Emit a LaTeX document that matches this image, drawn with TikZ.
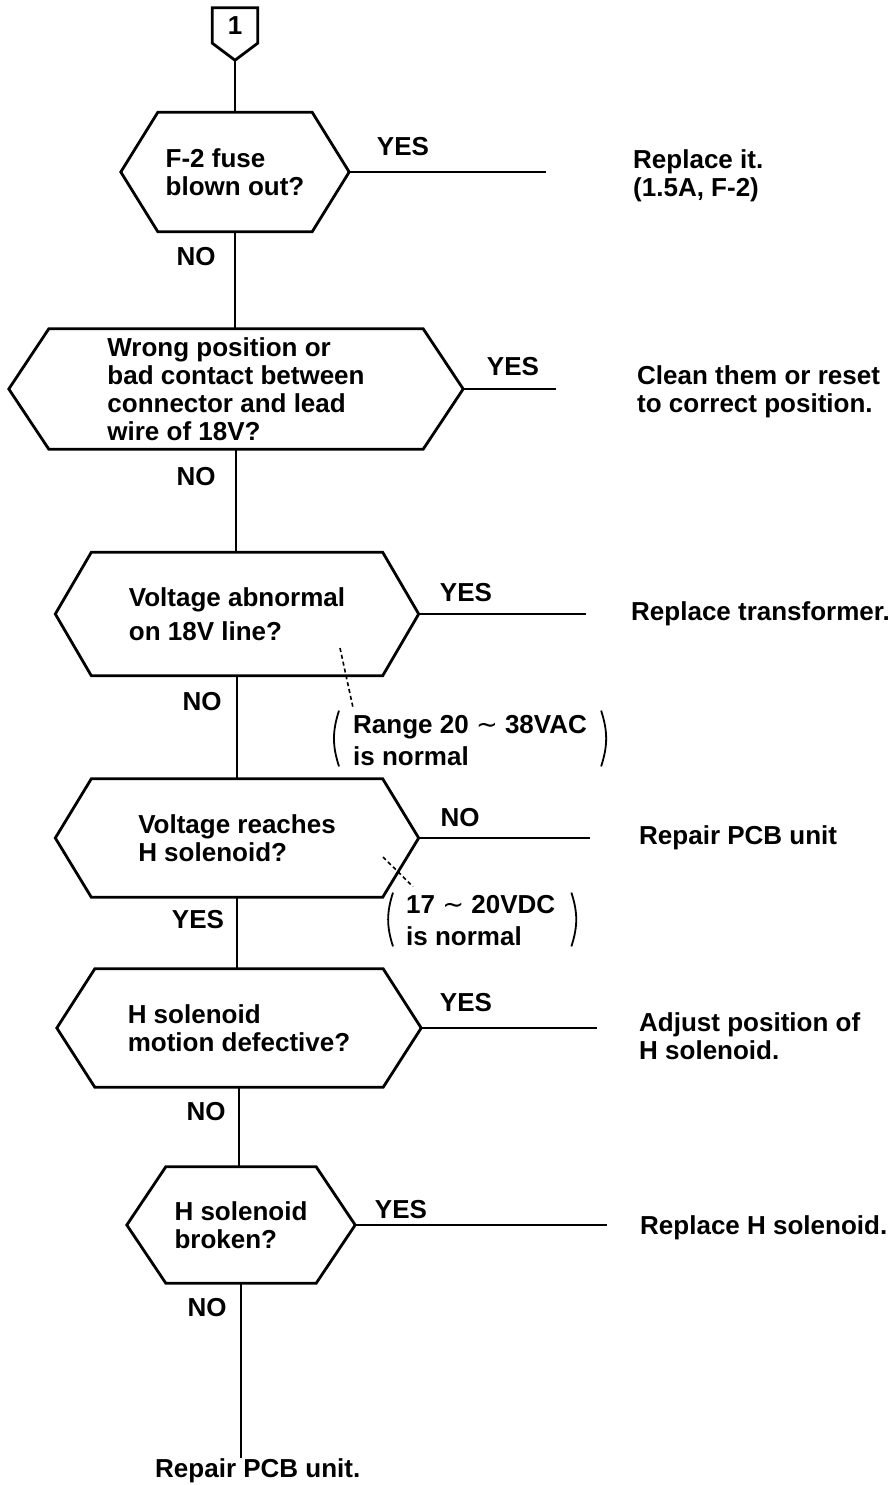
\documentclass[tikz,border=0pt]{standalone}
\usepackage{fontspec}
\setmainfont{Liberation Sans}
\newfontfamily\symfont{DejaVu Sans}
\newcommand{\tld}{{\symfont\mdseries ∼}}

\begin{document}
\begin{tikzpicture}[x=1pt, y=-1pt,
    txt/.style={font={\fontsize{26}{28}\selectfont\bfseries}, inner sep=0pt},
    quest/.style={txt, align=left, rectangle},
    ans/.style={txt, align=left, anchor=west},
    note/.style={txt, align=left, anchor=west, font={\fontsize{26}{32}\selectfont\bfseries}},
    startbox/.style={txt, rectangle, minimum width=45pt, minimum height=35pt},
    hexline/.style={line width=2.8pt, line join=miter},
    flow/.style={line width=2.3pt},
    leader/.style={line width=1.6pt, dash pattern=on 4pt off 3pt},
    paren/.style={line width=1.8pt}]

    \useasboundingbox (0,0) rectangle (893,1485);

    % --- Entry connector ---
    \node[startbox] (s) at (235,25.5) {1};
    \coordinate (tip) at ([yshift=-17pt]s.south);
    \draw[hexline] (s.north west) -- (s.north east) -- (s.south east)
        -- (tip) -- (s.south west) -- cycle;

    % --- Questions ---
    \node[quest, minimum width=228pt, minimum height=119pt] (q1) at (235,172)
        {F-2 fuse\\blown out?};
    \node[quest, minimum width=454pt, minimum height=120pt] (q2) at (236,389)
        {Wrong position or\\bad contact between\\connector and lead\\wire of 18V?};
    \node[quest, minimum width=363pt, minimum height=123pt] (q3) at (237,614)
        {Voltage abnormal\\[6pt]on 18V line?};
    \node[quest, minimum width=363pt, minimum height=118pt] (q4) at (237,838)
        {Voltage reaches\\H solenoid?};
    \node[quest, minimum width=364pt, minimum height=118pt] (q5) at (239,1028)
        {H solenoid\\motion defective?};
    \node[quest, minimum width=228pt, minimum height=116pt] (q6) at (241,1225)
        {H solenoid\\broken?};

    % hexagon outlines round the question boxes
    \foreach \n/\c in {q1/37pt, q2/40pt, q3/36pt, q4/36pt, q5/38pt, q6/39pt}
        \draw[hexline] ([xshift=\c]\n.north west) -- ([xshift=-\c]\n.north east)
            -- (\n.east) -- ([xshift=-\c]\n.south east)
            -- ([xshift=\c]\n.south west) -- (\n.west) -- cycle;

    % --- Main line down ---
    \draw[flow] (tip) -- (tip |- q1.north);
    \draw[flow] (q1.south) -- (q1.south |- q2.north);
    \draw[flow] (q2.south) -- (q2.south |- q3.north);
    \draw[flow] (q3.south) -- (q3.south |- q4.north);
    \draw[flow] (q4.south) -- (q4.south |- q5.north);
    \draw[flow] (q5.south) -- (q5.south |- q6.north);

    \node[txt] (no1) at (196,257) {NO};
    \node[txt] (no2) at (196,477) {NO};
    \node[txt] (no3) at (202,702) {NO};
    \node[txt] (yes4) at (198,920) {YES};
    \node[txt] (no5) at (206,1112) {NO};
    \node[txt] (no6) at (207,1308) {NO};

    \node[txt, anchor=base west] (fin) at (155,1477) {Repair PCB unit.};
    \draw[flow] (q6.south) -- (q6.south |- fin.north);

    % --- Branches to the right ---
    \coordinate (e1) at (546,0);
    \coordinate (e2) at (556,0);
    \coordinate (e3) at (586,0);
    \coordinate (e4) at (590,0);
    \coordinate (e5) at (597,0);
    \coordinate (e6) at (607,0);
    \draw[flow] (q1.east) -- (q1.east -| e1);
    \draw[flow] (q2.east) -- (q2.east -| e2);
    \draw[flow] (q3.east) -- (q3.east -| e3);
    \draw[flow] (q4.east) -- (q4.east -| e4);
    \draw[flow] (q5.east) -- (q5.east -| e5);
    \draw[flow] (q6.east) -- (q6.east -| e6);

    \node[txt] (yes1) at (403,147) {YES};
    \node[txt] (yes2) at (513,367) {YES};
    \node[txt] (yes3) at (466,593) {YES};
    \node[txt] (no4) at (460,818) {NO};
    \node[txt] (yes5) at (466,1003) {YES};
    \node[txt] (yes6) at (401,1210) {YES};

    \node[ans] (a1) at (633,176) {Replace it.\\(1.5A, F-2)};
    \node[ans] (a2) at (637,392) {Clean them or reset\\to correct position.};
    \node[ans] (a3) at (631,614) {Replace transformer.};
    \node[ans] (a4) at (639,838) {Repair PCB unit};
    \node[ans] (a5) at (639,1036) {Adjust position of\\H solenoid.};
    \node[ans] (a6) at (640,1228) {Replace H solenoid.};

    % --- Notes on normal values ---
    \node[note] (r1) at (353,741) {Range 20 \tld{} 38VAC\\is normal};
    \draw[paren] ([shift={(-14pt,5pt)}]r1.north west) to[bend right=18]
        ([shift={(-14pt,0pt)}]r1.south west);
    \draw[paren] ([shift={(14pt,5pt)}]r1.north east) to[bend left=18]
        ([shift={(14pt,0pt)}]r1.south east);
    \coordinate (d1) at (340,648);
    \draw[leader] (d1) -- ([yshift=8pt]r1.north west);

    \node[note] (r2) at (406,921) {17 \tld{} 20VDC\\is normal};
    \draw[paren] ([shift={(-13pt,3pt)}]r2.north west) to[bend right=18]
        ([shift={(-13pt,0pt)}]r2.south west);
    \draw[paren] ([shift={(16pt,3pt)}]r2.north east) to[bend left=18]
        ([shift={(16pt,0pt)}]r2.south east);
    \coordinate (d2) at (383,857);
    \draw[leader] (d2) -- ([shift={(7pt,9pt)}]r2.north west);

\end{tikzpicture}
\end{document}
